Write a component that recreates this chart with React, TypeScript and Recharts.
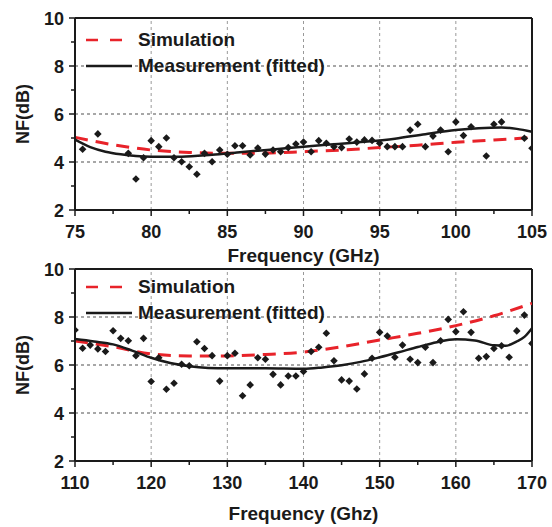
import React from "react";
import { ComposedChart, Line, Scatter, XAxis, YAxis, ReferenceLine, Label } from "recharts";

const FONT = "'Liberation Sans', Arial, Helvetica, sans-serif";
const RED = "#e8232a";
const INK = "#1a1a1a";
const GRID = "#999999";

// upper panel, 75-105 GHz
const upMeasFreq = [
  75.5, 76.5, 78.5, 79, 79.5, 80, 80.5, 81, 81.5, 82, 82.5, 83, 83.5, 84, 84.5, 85, 85.5, 86, 86.5, 87,
  87.5, 88, 88.5, 89, 89.5, 90, 90.5, 91, 91.5, 92, 92.5, 93, 93.5, 94, 94.5, 95, 95.5, 96, 96.5, 97,
  97.5, 98, 98.5, 99, 99.5, 100, 100.5, 101, 102, 102.5, 103, 104.5, 105,
];
const upMeasNF = [
  4.53, 5.17, 4.36, 3.29, 4.18, 4.89, 4.64, 5.0, 4.18, 4.01, 3.8, 3.49, 4.36, 4.01, 4.5, 4.32, 4.68, 4.68, 4.29, 4.58,
  4.33, 4.5, 4.43, 4.6, 4.75, 4.83, 4.43, 4.89, 4.78, 4.64, 4.6, 4.96, 4.83, 4.92, 4.9, 4.78, 4.64, 4.64, 4.64, 5.33,
  5.57, 4.64, 5.08, 5.33, 4.43, 5.67, 5.1, 5.47, 4.25, 5.57, 5.67, 4.99, 4.57,
];
const upFitFreq = [75, 76, 77, 78, 79, 80, 82, 84, 86, 88, 90, 92, 94, 96, 98, 100, 101.5, 103, 104, 105];
const upFitNF = [4.93, 4.62, 4.43, 4.32, 4.25, 4.22, 4.22, 4.3, 4.42, 4.52, 4.64, 4.74, 4.84, 4.97, 5.16, 5.33, 5.41, 5.44, 5.38, 5.26];
const upSimFreq = [75, 77.5, 80, 82.5, 85, 87.5, 90, 92.5, 95, 97.5, 100, 102.5, 105];
const upSimNF = [5.03, 4.72, 4.5, 4.4, 4.36, 4.37, 4.43, 4.5, 4.6, 4.7, 4.82, 4.92, 5.02];
const upXTicks = [75, 77.5, 80, 82.5, 85, 87.5, 90, 92.5, 95, 97.5, 100, 102.5, 105];
const upXLabels = [75, 80, 85, 90, 95, 100, 105];
const upXGrid = [80, 85, 90, 95, 100];

// lower panel, 110-170 GHz
const loMeasFreq = [
  110, 111, 112, 113, 114, 115, 116, 117, 118, 119, 120, 121, 122, 123, 124, 125, 126, 127, 128, 129, 130,
  131, 132, 133, 134, 135, 136, 137, 138, 139, 140, 141, 142, 143, 144, 145, 146, 147, 148, 149, 150,
  151, 152, 153, 154, 155, 156, 157, 158, 159, 160, 161, 162, 163, 164, 165, 166, 167, 168, 169, 170,
];
const loMeasNF = [
  7.46, 6.7, 6.83, 6.67, 6.56, 7.43, 7.11, 7.01, 6.39, 7.11, 5.31, 6.3, 4.99, 5.24, 6.03, 5.97, 6.97, 6.69, 6.39, 5.33, 6.39,
  6.49, 4.72, 5.17, 6.3, 6.24, 5.61, 5.17, 5.54, 5.54, 5.73, 6.56, 6.74, 7.32, 6.18, 5.38, 5.33, 5.0, 5.63, 6.28, 7.36,
  7.21, 6.32, 6.83, 6.24, 6.1, 6.74, 6.1, 7.01, 7.9, 7.39, 8.22, 7.36, 6.28, 6.35, 6.69, 6.8, 6.32, 7.42, 8.08, 6.9,
];
const loFitFreq = [110, 112.5, 115, 117.5, 120, 122.5, 125, 127.5, 130, 135, 140, 142.5, 145, 147.5, 150, 152.5, 155, 157.5, 160, 162.5, 165, 166.5, 168, 169, 170];
const loFitNF = [7.08, 6.98, 6.86, 6.6, 6.3, 6.08, 5.95, 5.88, 5.86, 5.86, 5.84, 5.9, 5.99, 6.13, 6.32, 6.53, 6.75, 6.95, 7.07, 7.02, 6.82, 6.8, 6.98, 7.17, 7.53];
const loSimFreq = [110, 115, 120, 125, 130, 135, 140, 145, 150, 155, 160, 165, 170];
const loSimNF = [7.0, 6.76, 6.46, 6.38, 6.38, 6.44, 6.54, 6.76, 7.04, 7.32, 7.64, 8.05, 8.57];
const loXTicks = [110, 115, 120, 125, 130, 135, 140, 145, 150, 155, 160, 165, 170];
const loXLabels = [110, 120, 130, 140, 150, 160, 170];
const loXGrid = [120, 130, 140, 150, 160];

const yTicks = [2, 3, 4, 5, 6, 7, 8, 9, 10];
const yLabels = [2, 4, 6, 8, 10];
const yGrid = [4, 6, 8];

const legendItems = [
  { name: "Simulation", color: RED, dash: "12 12" },
  { name: "Measurement (fitted)", color: INK, dash: undefined },
];

const pairs = (f: number[], v: number[]) => f.map((x, i) => ({ f: x, v: v[i] }));

function XTick({ x, y, payload, labels }: any) {
  const major = labels.includes(payload.value);
  return (
    <g>
      <line x1={x} x2={x} y1={y} y2={y + (major ? 6 : 4)} stroke={INK} strokeWidth={1.5} />
      {major && (
        <text x={x} y={y + 28} textAnchor="middle" fontSize={18} fontWeight="bold" fill={INK} fontFamily={FONT}>
          {payload.value}
        </text>
      )}
    </g>
  );
}

function YTick({ x, y, payload }: any) {
  const major = yLabels.includes(payload.value);
  return (
    <g>
      <line x1={x - (major ? 6 : 4)} x2={x} y1={y} y2={y} stroke={INK} strokeWidth={1.5} />
      {major && (
        <text x={x - 11} y={y + 6.5} textAnchor="end" fontSize={18} fontWeight="bold" fill={INK} fontFamily={FONT}>
          {payload.value}
        </text>
      )}
    </g>
  );
}

function Diamond({ cx, cy }: any) {
  const r = 3.8;
  return <path d={`M${cx},${cy - r}L${cx + r},${cy}L${cx},${cy + r}L${cx - r},${cy}Z`} fill={INK} />;
}

function PanelLegend({ top }: { top: number }) {
  return (
    <div style={{ position: "absolute", left: 86, top, fontFamily: FONT, fontWeight: "bold", fontSize: 19, color: INK }}>
      {legendItems.map((item) => (
        <div key={item.name} style={{ display: "flex", alignItems: "center", height: 26, lineHeight: "26px" }}>
          <svg width={46} height={4} style={{ marginRight: 6 }}>
            <line x1={0} y1={2} x2={46} y2={2} stroke={item.color} strokeWidth={2.5} strokeDasharray={item.dash} />
          </svg>
          <span>{item.name}</span>
        </div>
      ))}
    </div>
  );
}

interface PanelProps {
  meas: { f: number; v: number }[];
  fit: { f: number; v: number }[];
  sim: { f: number; v: number }[];
  domain: [number, number];
  ticks: number[];
  labels: number[];
  grid: number[];
  title: string;
  top: number;
  height: number;
  marginTop: number;
  titleOffset: number;
}

function Panel(p: PanelProps) {
  const xAxisHeight = p.height - p.marginTop - 192;
  return (
    <div style={{ position: "absolute", left: 0, top: p.top }}>
      <ComposedChart width={552} height={p.height} margin={{ top: p.marginTop, right: 20, bottom: 0, left: 0 }}>
        <XAxis
          type="number"
          dataKey="f"
          domain={p.domain}
          ticks={p.ticks}
          interval={0}
          allowDataOverflow
          height={xAxisHeight}
          tickSize={0}
          tickMargin={0}
          tickLine={false}
          axisLine={{ stroke: INK, strokeWidth: 2 }}
          tick={(t: any) => <XTick {...t} labels={p.labels} />}
        >
          <Label
            value={p.title}
            position="insideBottom"
            offset={p.titleOffset}
            fontSize={19}
            fontWeight="bold"
            fill={INK}
            fontFamily={FONT}
          />
        </XAxis>
        <YAxis
          type="number"
          domain={[2, 10]}
          ticks={yTicks}
          interval={0}
          allowDataOverflow
          width={75}
          tickSize={0}
          tickMargin={0}
          tickLine={false}
          axisLine={{ stroke: INK, strokeWidth: 2 }}
          tick={(t: any) => <YTick {...t} />}
          label={{
            content: (lp: any) => {
              const vb = lp.viewBox || { x: 0, y: 0, height: 0 };
              const cx = vb.x + 29;
              const cy = vb.y + vb.height / 2;
              return (
                <text
                  x={cx}
                  y={cy}
                  transform={`rotate(-90, ${cx}, ${cy})`}
                  textAnchor="middle"
                  fontSize={18}
                  fontWeight="bold"
                  fill={INK}
                  fontFamily={FONT}
                >
                  NF(dB)
                </text>
              );
            },
          }}
        />
        {yGrid.map((v) => (
          <ReferenceLine key={"gy" + v} y={v} stroke="#8a8a8a" strokeWidth={1.4} strokeDasharray="3 3" />
        ))}
        {p.grid.map((v) => (
          <ReferenceLine key={"gx" + v} x={v} stroke={GRID} strokeWidth={1} strokeDasharray="3 3" />
        ))}
        <ReferenceLine y={10} stroke={INK} strokeWidth={2} />
        <ReferenceLine x={p.domain[1]} stroke={INK} strokeWidth={2} />
        <Scatter data={p.meas} dataKey="v" shape={<Diamond />} isAnimationActive={false} />
        <Line data={p.sim} dataKey="v" type="monotone" stroke={RED} strokeWidth={3} strokeDasharray="13 8" dot={false} isAnimationActive={false} />
        <Line data={p.fit} dataKey="v" type="monotone" stroke={INK} strokeWidth={2.5} dot={false} isAnimationActive={false} />
      </ComposedChart>
    </div>
  );
}

export default function App() {
  return (
    <div style={{ position: "absolute", left: 0, top: 0, width: 552, height: 527, background: "#fff" }}>
      <Panel
        meas={pairs(upMeasFreq, upMeasNF)}
        fit={pairs(upFitFreq, upFitNF)}
        sim={pairs(upSimFreq, upSimNF)}
        domain={[75, 105]}
        ticks={upXTicks}
        labels={upXLabels}
        grid={upXGrid}
        title="Frequency (GHz)"
        top={0}
        height={270}
        marginTop={18}
        titleOffset={8}
      />
      <Panel
        meas={pairs(loMeasFreq, loMeasNF)}
        fit={pairs(loFitFreq, loFitNF)}
        sim={pairs(loSimFreq, loSimNF)}
        domain={[110, 170]}
        ticks={loXTicks}
        labels={loXLabels}
        grid={loXGrid}
        title="Frequency (Ghz)"
        top={250}
        height={277}
        marginTop={19}
        titleOffset={7}
      />
      <PanelLegend top={27} />
      <PanelLegend top={274} />
    </div>
  );
}
